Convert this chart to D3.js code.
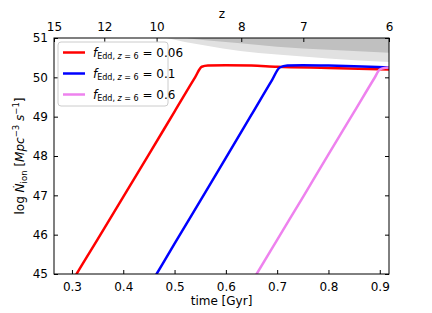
<!DOCTYPE html>
<html>
<head>
<meta charset="utf-8">
<script src="https://cdn.jsdelivr.net/npm/d3@7"></script>
<style>
  body { margin: 0; background: #fff; }
  text { font-family: "DejaVu Sans", sans-serif; }
</style>
</head>
<body>
<script>
// Data
var labels = ["0.06", "0.1", "0.6"];
var colors = ["#ff0000", "#0000ff", "#ee82ee"];

var redT = [0.300, 0.309, 0.35, 0.40, 0.45, 0.50, 0.54, 0.553, 0.565, 0.60, 0.65, 0.70, 0.80, 0.918];
var redY = [44.80, 45.00, 45.88, 46.96, 48.04, 49.13, 50.00, 50.27, 50.30, 50.31, 50.30, 50.27, 50.24, 50.20];

var blueT = [0.455, 0.465, 0.50, 0.55, 0.60, 0.65, 0.69, 0.705, 0.72, 0.75, 0.80, 0.85, 0.918];
var blueY = [44.78, 45.00, 45.77, 46.86, 47.95, 49.05, 49.93, 50.25, 50.30, 50.31, 50.30, 50.28, 50.25];

var violetT = [0.650, 0.660, 0.70, 0.75, 0.80, 0.85, 0.89, 0.90, 0.91, 0.918];
var violetY = [44.78, 45.00, 45.87, 46.95, 48.04, 49.12, 49.99, 50.20, 50.24, 50.25];

// grey bands at the top (lower edges)
var lightT = [0.485, 0.52, 0.56, 0.628, 0.70, 0.80, 0.918];
var lightY = [51.00, 50.90, 50.81, 50.67, 50.58, 50.48, 50.39];
var darkT = [0.524, 0.56, 0.628, 0.70, 0.80, 0.918];
var darkY = [51.00, 50.94, 50.865, 50.78, 50.70, 50.626];

var xTicks = [0.3, 0.4, 0.5, 0.6, 0.7, 0.8, 0.9];
var yTicks = [45, 46, 47, 48, 49, 50, 51];
var zTicks = [15, 12, 10, 8, 7, 6];
var zAges = [0.265, 0.363, 0.465, 0.630, 0.751, 0.918];

var W = 432, H = 313;
var margin = { left: 54, top: 38, right: 43, bottom: 39 };
var w = W - margin.left - margin.right;
var h = H - margin.top - margin.bottom;

var svg = d3.select("body").append("svg")
  .attr("width", W)
  .attr("height", H);

var g = svg.append("g")
  .attr("transform", "translate(" + margin.left + "," + margin.top + ")");

var x = d3.scaleLinear().domain([0.265, 0.918]).range([0, w]);
var y = d3.scaleLinear().domain([45, 51]).range([h, 0]);

g.append("clipPath").attr("id", "clip")
  .append("rect").attr("width", w).attr("height", h);

var plot = g.append("g").attr("clip-path", "url(#clip)");

function zip(ts, vs) {
  return ts.map(function(t, i) { return [t, vs[i]]; });
}

// shaded bands
var band = d3.area()
  .x(function(d) { return x(d[0]); })
  .y0(function(d) { return y(d[1]); })
  .y1(function() { return y(51.2); })
  .curve(d3.curveMonotoneX);

plot.append("path").datum(zip(lightT, lightY))
  .attr("d", band).attr("fill", "#e1e1e1");
plot.append("path").datum(zip(darkT, darkY))
  .attr("d", band).attr("fill", "#c0c0c0");

// curves
var line = d3.line()
  .x(function(d) { return x(d[0]); })
  .y(function(d) { return y(d[1]); })
  .curve(d3.curveMonotoneX);

var series = [zip(redT, redY), zip(blueT, blueY), zip(violetT, violetY)];
series.forEach(function(s, i) {
  plot.append("path").datum(s)
    .attr("d", line)
    .attr("fill", "none")
    .attr("stroke", colors[i])
    .attr("stroke-width", 2.5)
    .attr("stroke-linejoin", "round");
});

// axes, ticks inward
var axBottom = g.append("g").attr("transform", "translate(0," + h + ")")
  .call(d3.axisBottom(x).tickValues(xTicks).tickFormat(d3.format(".1f"))
    .tickSizeInner(-4).tickSizeOuter(0).tickPadding(8));
var axLeft = g.append("g")
  .call(d3.axisLeft(y).tickValues(yTicks).tickFormat(d3.format("d"))
    .tickSizeInner(-4).tickSizeOuter(0).tickPadding(6));
var axRight = g.append("g").attr("transform", "translate(" + w + ",0)")
  .call(d3.axisRight(y).tickValues(yTicks).tickFormat("")
    .tickSizeInner(-4).tickSizeOuter(0));

var xTop = d3.scaleLinear().domain([0.265, 0.918]).range([0, w]);
var axTop = g.append("g")
  .call(d3.axisTop(xTop).tickValues(zAges)
    .tickFormat(function(d, i) { return zTicks[i]; })
    .tickSizeInner(-4).tickSizeOuter(0).tickPadding(7));

[axBottom, axLeft, axRight, axTop].forEach(function(a) {
  a.select(".domain").remove();
  a.selectAll("text").attr("font-size", 12).attr("fill", "#000")
    .attr("font-family", "DejaVu Sans");
  a.selectAll("line").attr("stroke", "#000");
});

g.append("rect").attr("width", w).attr("height", h)
  .attr("fill", "none").attr("stroke", "#000").attr("stroke-width", 1);

// axis labels
svg.append("text").attr("x", margin.left + w / 2).attr("y", 305)
  .attr("text-anchor", "middle").attr("font-size", 12).text("time [Gyr]");

svg.append("text").attr("x", 222).attr("y", 18)
  .attr("text-anchor", "middle").attr("font-size", 12).text("z");

var yl = svg.append("text")
  .attr("transform", "translate(24," + (margin.top + h / 2) + ") rotate(-90)")
  .attr("text-anchor", "middle").attr("font-size", 12);
yl.append("tspan").text("log ");
yl.append("tspan").attr("font-style", "italic").text("\u1E44");
yl.append("tspan").attr("font-size", 8.5).attr("dy", 2.5).text("ion");
yl.append("tspan").attr("dy", -2.5).text(" [");
yl.append("tspan").attr("font-style", "italic").text("Mpc");
yl.append("tspan").attr("font-size", 8.5).attr("dy", -5).text("\u22123");
yl.append("tspan").attr("dy", 5).text(" ");
yl.append("tspan").attr("font-style", "italic").text("s");
yl.append("tspan").attr("font-size", 8.5).attr("dy", -5).text("\u22121");
yl.append("tspan").attr("dy", 5).text("]");

// legend
var lg = svg.append("g").attr("transform", "translate(58,42)");
lg.append("rect").attr("width", 110).attr("height", 64).attr("rx", 3)
  .attr("fill", "#fff").attr("fill-opacity", 0.8)
  .attr("stroke", "#cccccc").attr("stroke-width", 1);

labels.forEach(function(lab, i) {
  var yy = 10.5 + i * 21;
  lg.append("line").attr("x1", 5).attr("x2", 27).attr("y1", yy).attr("y2", yy)
    .attr("stroke", colors[i]).attr("stroke-width", 2.5);
  var t = lg.append("text").attr("x", 35).attr("y", yy + 4).attr("font-size", 12);
  t.append("tspan").attr("font-style", "italic").text("f");
  t.append("tspan").attr("font-size", 8).attr("dy", 2).text("Edd, ");
  t.append("tspan").attr("font-size", 8).attr("font-style", "italic").text("z");
  t.append("tspan").attr("font-size", 8).text(" = 6");
  t.append("tspan").attr("dy", -2).text(" = " + lab);
});
</script>
</body>
</html>
